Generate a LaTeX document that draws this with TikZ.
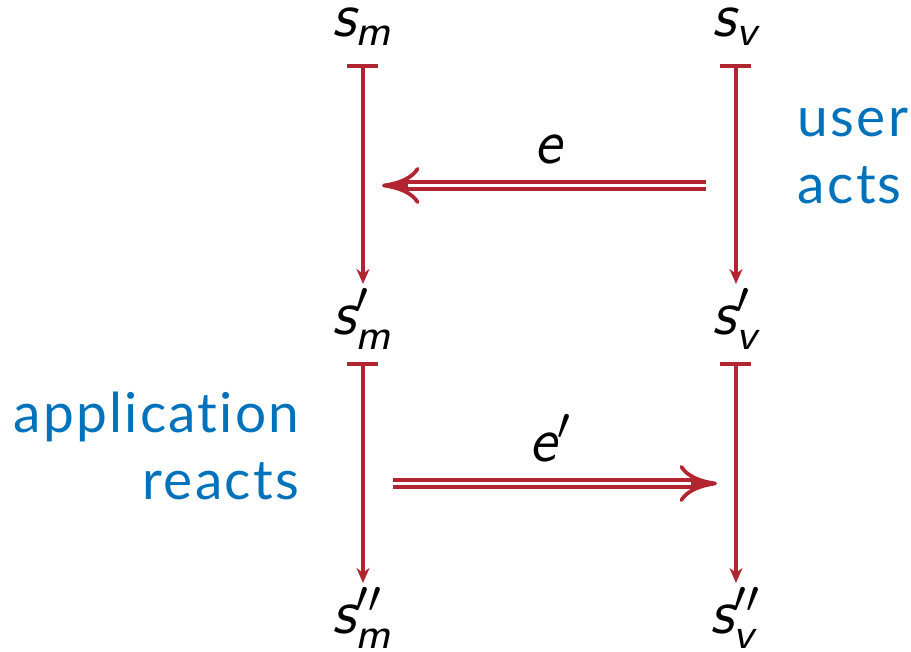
\documentclass[tikz,border=0pt]{standalone}
\usepackage{amsmath}
\usepackage{fontspec}
\newfontfamily\lato[LetterSpace=4, Ligatures=NoCommon]{Lato}
\usetikzlibrary{arrows.meta}
\definecolor{actred}{RGB}{178,36,48}
\definecolor{actblue}{RGB}{0,114,188}
\DeclareMathSizes{12.5}{12.5}{8.6}{7}
\newcommand{\sfit}[1]{\textsf{\slshape #1}}

\begin{document}
\begin{tikzpicture}[
  x=0.2pt, y=-0.2pt,
  every node/.style={font=\fontsize{12.5}{15}\selectfont},
  state/.style={anchor=base, inner sep=0pt,
                text height=10pt, text depth=5.2pt},
  lbl/.style={font=\lato\fontsize{11}{13.4}\selectfont, text=actblue, inner sep=0pt},
  mapsto/.style={{Bar[width=6.2pt]}-{Stealth[length=3pt,width=2.6pt]},
                 line width=0.75pt, draw=actred},
  event/.style={double, double distance=0.7pt,
                line width=0.7pt, draw=actred},
  evtip/.style={-{Computer Modern Rightarrow[length=7.5pt,width=7.4pt,line width=0.75pt]},
                line width=1pt, draw=actred},
  evlbl/.style={above, inner sep=4pt},
]
\useasboundingbox (0,0) rectangle (911,652);

%% columns: model (left), view (right)
\def\mx{363}
\def\vx{736}

%% states
\node[state, text height=6pt] (sm)  at (\mx,37)  {$\sfit{s}_{\sfit{m}}$};
\node[state, text height=6pt] (sv)  at (\vx,37)  {$\sfit{s}_{\sfit{v}}$};
\node[state] (sm1) at (\mx,335) {$\sfit{s}'_{\sfit{m}}$};
\node[state] (sv1) at (\vx,335) {$\sfit{s}'_{\sfit{v}}$};
\node[state] (sm2) at (\mx,634) {$\sfit{s}''_{\sfit{m}}$};
\node[state] (sv2) at (\vx,634) {$\sfit{s}''_{\sfit{v}}$};

%% transitions
\draw[mapsto] (sm.south)  -- (sm1.north);
\draw[mapsto] (sv.south)  -- (sv1.north);
\draw[mapsto] (sm1.south) -- (sm2.north);
\draw[mapsto] (sv1.south) -- (sv2.north);

%% events (double shaft, then the tip)
\coordinate (ua) at (\vx,185.5);
\coordinate (ub) at (\mx,185.5);
\coordinate (ra) at (\mx,483.5);
\coordinate (rb) at (\vx,483.5);
\draw[event] ([xshift=-6pt]ua) -- ([xshift=7.4pt]ub)
  node[evlbl, midway, xshift=-1pt] {$\sfit{e}$};
\draw[evtip] ([xshift=9pt]ub) -- ([xshift=3.8pt]ub);
\draw[event] ([xshift=6pt]ra) -- ([xshift=-7.4pt]rb)
  node[evlbl, midway, xshift=1pt] {$\sfit{e}'$};
\draw[evtip] ([xshift=-9pt]rb) -- ([xshift=-3.8pt]rb);

%% side labels
\node[lbl, align=left, anchor=base west]  (user) at (797,204) {user\\acts};
\node[lbl, align=right, anchor=base east] (app)  at (300,500) {application\\reacts};
\end{tikzpicture}
\end{document}
